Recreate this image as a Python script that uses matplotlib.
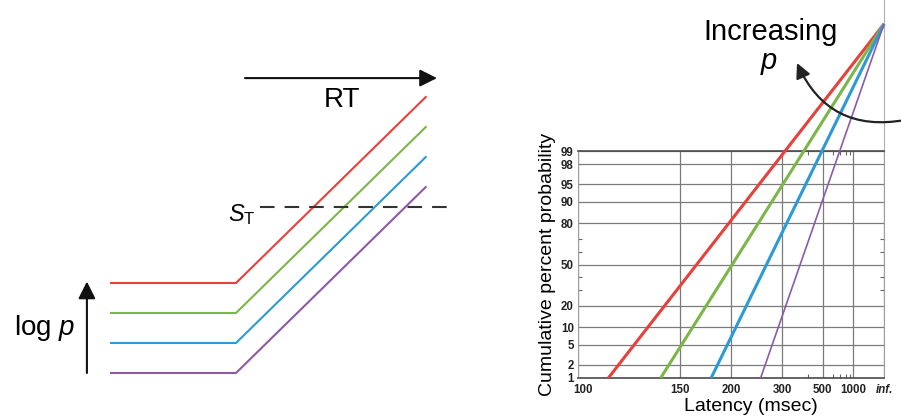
import matplotlib.pyplot as plt
from matplotlib.transforms import ScaledTranslation
from statistics import NormalDist

plt.rcParams['font.family'] = ['Liberation Sans', 'DejaVu Sans']
plt.rcParams['mathtext.fontset'] = 'custom'
plt.rcParams['mathtext.rm'] = 'Liberation Sans'
plt.rcParams['mathtext.it'] = 'Liberation Sans:italic'

colors = ['#e8403b', '#7ab648', '#2c9ad6', '#8c5aa8']

# schematic: log prior per line, rise start/end and threshold level
log_p = [3, 2, 1, 0]
t_onset = 4.2
t_end = 10.55
rise_slope = 0.98
s_thresh = 5.53

# reciprobit: latency (ms) where each line crosses 1 %, common probit at inf. latency
lat_1pct = [111, 137, 177, 248]
z_apex = 4.93
x_ticks = [100, 150, 200, 300, 500, 1000]
x_minor = [400, 600, 700, 800, 900]
y_ticks = [1, 2, 5, 10, 20, 50, 80, 90, 95, 98, 99]
y_minor = [30, 40, 60, 70]


def probit(p):
    return NormalDist().inv_cdf(p / 100.0)


def recip(t):
    return -1.0 / t


fig = plt.figure(figsize=(9.01, 4.2), dpi=100)

# ---- left: rise-to-threshold sketch ----
ax = fig.add_axes([0, 0, 0.5, 1])
ax.set_xlim(-3.667, 11.35)
ax.set_ylim(-1.567, 12.433)
ax.axis('off')

for lp, c in zip(log_p, colors):
    ax.plot([0, t_onset, t_end], [lp, lp, lp + rise_slope * (t_end - t_onset)],
            color=c, lw=1.5, solid_capstyle='butt')

ax.plot([5.0, 11.25], [s_thresh, s_thresh], color='#333333', lw=1.5,
        ls=(0, (7, 4.8)))
ax.text(4.85, s_thresh - 0.25, r'$S_{\mathrm{T}}$', ha='right', va='center', fontsize=17)

arrow = dict(arrowstyle='-|>', color='#111111', lw=1.5, mutation_scale=26,
             shrinkA=0, shrinkB=0)
ax.annotate('', xy=(10.9, 9.83), xytext=(4.5, 9.83), arrowprops=arrow)
ax.text(7.73, 9.1, 'RT', ha='center', va='center', fontsize=20)
ax.annotate('', xy=(-0.77, 3.05), xytext=(-0.77, 0), arrowprops=arrow)
ax.text(-1.15, 1.27, 'log $p$', ha='right', va='baseline', fontsize=20)

# ---- right: reciprobit plot ----
ax2 = fig.add_axes([578 / 901, 42 / 420, 306 / 901, 227 / 420])
ax2.set_xlim(recip(100), 0)
ax2.set_ylim(probit(1), probit(99))

widths = [2.2, 2.2, 2.2, 1.2]
for lat, c, w in zip(lat_1pct, colors, widths):
    ax2.plot([recip(lat), 0], [probit(1), z_apex], color=c, lw=w,
             clip_on=False, zorder=3, solid_capstyle='butt')

ax2.set_xticks([recip(t) for t in x_ticks] + [0])
ax2.set_xticklabels([str(t) for t in x_ticks] + ['inf.'])
ax2.set_yticks([probit(p) for p in y_ticks])
ax2.set_yticklabels([str(p) for p in y_ticks])
ax2.set_xticks([recip(t) for t in x_minor], minor=True)
ax2.set_yticks([probit(p) for p in y_minor], minor=True)
ax2.grid(True, which='major', color='#7a7a7a', lw=0.9)
ax2.tick_params(which='major', length=0, labelsize=8.3, labelcolor='#222222')
ax2.tick_params(axis='x', which='major', pad=4)
ax2.tick_params(axis='y', which='major', pad=3)
ax2.tick_params(which='minor', direction='in', length=3, width=0.8, color='#666666',
                top=True, bottom=True, left=True, right=True)
for lab in ax2.get_xticklabels() + ax2.get_yticklabels():
    lab.set_fontweight('bold')
ax2.get_xticklabels()[-1].set_style('italic')
first = ax2.get_xticklabels()[0]
first.set_transform(first.get_transform() + ScaledTranslation(0.05, 0, fig.dpi_scale_trans))

for side in ['top', 'bottom']:
    ax2.spines[side].set_color('#4a4a4a')
    ax2.spines[side].set_linewidth(1.2)
for side in ['left', 'right']:
    ax2.spines[side].set_color('#a0a0a0')
    ax2.spines[side].set_linewidth(0.8)
ax2.axvline(0, ymin=1, ymax=1.67, color='#b0b0b0', lw=0.8, clip_on=False)

ax2.set_xlabel('Latency (msec)', fontsize=14)
ax2.xaxis.set_label_coords(0.565, -0.088)
ax2.set_ylabel('Cumulative percent probability', fontsize=14)
ax2.yaxis.set_label_coords(-0.072, 0.5)

fig.text(771 / 901, 1 - 32 / 420, 'Increasing', ha='center', va='center', fontsize=21)
fig.text(769 / 901, 1 - 61 / 420, 'p', ha='center', va='center', fontsize=21,
         style='italic')
fig.add_artist(plt.matplotlib.patches.FancyArrowPatch(
    (905 / 901, 1 - 120 / 420), (797 / 901, 1 - 63 / 420),
    transform=fig.transFigure, arrowstyle='-|>', connectionstyle='arc3,rad=-0.39',
    color='#222222', lw=1.6, mutation_scale=22, shrinkA=0, shrinkB=0))

fig.savefig('out.png', dpi=100)
